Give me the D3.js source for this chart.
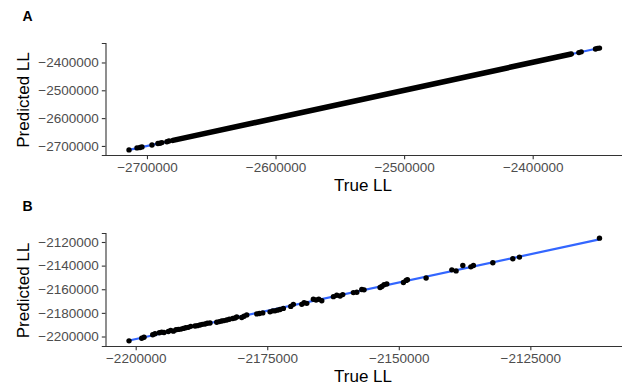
<!DOCTYPE html>
<html>
<head>
<meta charset="utf-8">
<script src="https://cdn.jsdelivr.net/npm/d3@7"></script>
<style>
  body { margin: 0; background: #fff; }
  svg { display: block; font-family: 'Liberation Sans', Arial, sans-serif; }
</style>
</head>
<body>
<svg id="chart" width="622" height="387"></svg>
<script>
// Panel A: sparse tail points (true, predicted); the middle is a solid run of points
let trueA = [-2713950, -2707750, -2705400, -2703900, -2696100, -2691500, -2689900, -2688400, -2684500, -2682900,
    -2364100, -2362250, -2351160, -2349600, -2348060];
let predA = [-2714300, -2707100, -2705800, -2703500, -2696400, -2691000, -2690200, -2688000, -2684900, -2682500,
    -2364500, -2361800, -2351500, -2349200, -2348300];
// start and end of the dense run of points in panel A
let denseTrueA = [-2679800, -2370000];
let densePredA = [-2680000, -2369600];

// Panel B points
let trueB = [-2201270, -2198860, -2198420, -2196770, -2196330, -2195510, -2195060, -2194620, -2193800, -2193350,
    -2192850, -2192340, -2191900, -2191390, -2190950, -2190490, -2190000, -2189540, -2188730, -2188290,
    -2187780, -2187340, -2186830, -2186390, -2185880, -2184600, -2184110, -2183650, -2183210, -2182700,
    -2182210, -2181560, -2181120, -2180800, -2179850, -2179410, -2178900, -2177000, -2176500, -2175860,
    -2174470, -2173950, -2173520, -2173080, -2172570, -2171940, -2170530, -2170040, -2168440, -2168000,
    -2167490, -2166240, -2165720, -2165210, -2164640, -2162430, -2161790, -2161160, -2160650, -2158630,
    -2157980, -2157030, -2156600, -2153560, -2153230, -2152800, -2152280, -2149120, -2148610, -2148360,
    -2144810, -2139920, -2139110, -2137830, -2136310, -2135820, -2132130, -2128330, -2127070, -2111860];
let predB = [-2203690, -2201460, -2200600, -2198540, -2197680, -2196820, -2196310, -2196570, -2195710, -2194850,
    -2195450, -2194250, -2193990, -2193730, -2193130, -2192530, -2192270, -2191420, -2191160, -2190820,
    -2190300, -2189700, -2189440, -2188840, -2188580, -2187980, -2187380, -2186870, -2186520, -2186010,
    -2185410, -2184810, -2184290, -2183430, -2183950, -2182830, -2181720, -2180860, -2180520, -2180000,
    -2179140, -2178280, -2178280, -2177680, -2177080, -2176220, -2174510, -2172790, -2172790, -2171420,
    -2171930, -2168500, -2169100, -2168500, -2169700, -2166270, -2165060, -2165670, -2164550, -2162830,
    -2162490, -2160260, -2160520, -2158540, -2157680, -2156220, -2155620, -2154250, -2152530, -2151930,
    -2150470, -2143600, -2144460, -2139910, -2141030, -2139910, -2137600, -2134160, -2132790, -2116740];

let ticksAx = [-2700000, -2600000, -2500000, -2400000];
let ticksAy = [-2700000, -2600000, -2500000, -2400000];
let ticksBx = [-2200000, -2175000, -2150000, -2125000];
let ticksBy = [-2200000, -2180000, -2160000, -2140000, -2120000];

let svg = d3.select('#chart');
let left = 105.5;
let right = 623;

let panels = [
    {tag: 'A', top: 43, bottom: 155, xs: trueA.concat(denseTrueA), ys: predA.concat(densePredA),
        px: trueA, py: predA, dense: true, tx: ticksAx, ty: ticksAy},
    {tag: 'B', top: 233, bottom: 346, xs: trueB, ys: predB,
        px: trueB, py: predB, dense: false, tx: ticksBx, ty: ticksBy}
];

// ggplot style 5% padding around the data range
function expand(vals) {
    let e = d3.extent(vals);
    let pad = (e[1] - e[0]) * 0.05;
    return [e[0] - pad, e[1] + pad];
}

// least squares fit, like geom_smooth(method = 'lm')
function fit(xs, ys) {
    let mx = d3.mean(xs), my = d3.mean(ys);
    let sxy = 0, sxx = 0;
    for (let i = 0; i < xs.length; ++i) {
        sxy += (xs[i] - mx) * (ys[i] - my);
        sxx += (xs[i] - mx) * (xs[i] - mx);
    }
    let b = sxy / sxx;
    return {b: b, a: my - b * mx};
}

let fmt = d3.format('d');

panels.forEach(function(p) {
    let g = svg.append('g');
    let x = d3.scaleLinear().domain(expand(p.xs)).range([left, right]);
    let y = d3.scaleLinear().domain(expand(p.ys)).range([p.bottom, p.top]);

    // regression line
    let m = fit(p.xs, p.ys);
    let ex = d3.extent(p.xs);
    g.append('line')
        .attr('x1', x(ex[0])).attr('y1', y(m.a + m.b * ex[0]))
        .attr('x2', x(ex[1])).attr('y2', y(m.a + m.b * ex[1]))
        .attr('stroke', '#3366FF')
        .attr('stroke-width', 2.2);

    // dense run of points drawn as one thick stroke
    if (p.dense) {
        g.append('line')
            .attr('x1', x(denseTrueA[0])).attr('y1', y(densePredA[0]))
            .attr('x2', x(denseTrueA[1])).attr('y2', y(densePredA[1]))
            .attr('stroke', '#000')
            .attr('stroke-width', 5.6)
            .attr('stroke-linecap', 'round');
    }

    g.selectAll('circle.pt')
        .data(p.px)
        .enter().append('circle')
        .attr('class', 'pt')
        .attr('cx', function(d) { return x(d); })
        .attr('cy', function(d, i) { return y(p.py[i]); })
        .attr('r', 2.7)
        .attr('fill', '#000');

    // axes
    let xAxis = g.append('g')
        .attr('transform', 'translate(0,' + (p.bottom + 0.5) + ')')
        .call(d3.axisBottom(x).tickValues(p.tx).tickFormat(fmt).tickSizeOuter(0).tickSize(3.7).tickPadding(3));
    let yAxis = g.append('g')
        .attr('transform', 'translate(' + left + ',0)')
        .call(d3.axisLeft(y).tickValues(p.ty).tickFormat(fmt).tickSizeOuter(0).tickSize(3.7).tickPadding(3));

    [xAxis, yAxis].forEach(function(a) {
        a.select('.domain').attr('stroke', '#333').attr('stroke-width', 1.1);
        a.selectAll('.tick line').attr('stroke', '#333').attr('stroke-width', 1.1);
        a.selectAll('.tick text')
            .attr('fill', '#4d4d4d')
            .style('font-size', '13.5px')
            .style('font-family', "'Liberation Sans', Arial, sans-serif");
    });
    // make the axes meet at the corner
    xAxis.select('.domain').attr('d', 'M' + (left - 0.5) + ',0H' + right);

    g.append('text')
        .attr('x', 363)
        .attr('y', p.bottom + 36)
        .attr('text-anchor', 'middle')
        .style('font-size', '17px')
        .attr('fill', '#000')
        .text('True LL');

    g.append('text')
        .attr('transform', 'translate(29,' + ((p.top + p.bottom) / 2 + 1) + ') rotate(-90)')
        .attr('text-anchor', 'middle')
        .style('font-size', '17px')
        .attr('fill', '#000')
        .text('Predicted LL');

    g.append('text')
        .attr('x', 22.5)
        .attr('y', p.top - 22)
        .style('font-size', '14px')
        .style('font-weight', 'bold')
        .attr('fill', '#000')
        .text(p.tag);
});
</script>
</body>
</html>
